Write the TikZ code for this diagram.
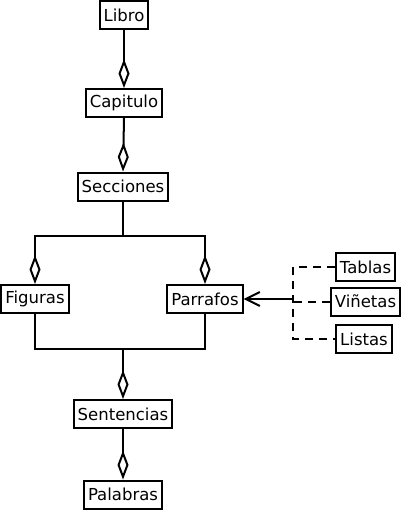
\documentclass[tikz,border=0pt]{standalone}
\usepackage{fontspec}
\setmainfont{DejaVu Sans}
\usetikzlibrary{arrows.meta}
\tikzset{
  box/.style={draw, line width=2pt, inner xsep=4pt, inner ysep=0pt, minimum height=28pt, font=\fontsize{16.5}{19}\selectfont},
  link/.style={line width=2pt},
  agg/.style={link, -{Diamond[open,length=29pt,width=11pt,line width=2pt]}},
  dep/.style={link, -{Straight Barb[length=14pt,width=14pt,line width=2pt]}},
  dsh/.style={line width=2pt, dash pattern=on 8pt off 6pt}
}
\begin{document}
\begin{tikzpicture}[x=1pt,y=-1pt]
\useasboundingbox (0,0) rectangle (403,513);
\node[box] (libro) at (124,15) {Libro};
\node[box] (cap) at (124,103) {Capitulo};
\node[box] (sec) at (123,186.5) {Secciones};
\node[box] (fig) at (35,299) {Figuras};
\node[box] (par) at (205,299) {Parrafos};
\node[box] (sen) at (123,414) {Sentencias};
\node[box] (pal) at (123,494.5) {Palabras};
\node[box] (tab) at (365.5,267) {Tablas};
\node[box] (vin) at (365.5,301.5) {Viñetas};
\node[box] (lis) at (364,339) {Listas};
\coordinate (top) at (123,236);
\coordinate (bot) at (123,349);
\coordinate (j) at (293,299);
\coordinate (jt) at (293,267);
\coordinate (jl) at (293,339);
\draw[agg] (libro.south) -- (cap.north);
\draw[agg] (cap.south) -- (sec.north);
\draw[link] (sec.south) -- (top);
\draw[agg] (top) -| (fig.north);
\draw[agg] (top) -| (par.north);
\draw[link] (fig.south) |- (bot) -| (par.south);
\draw[agg] (bot) -- (sen.north);
\draw[agg] (sen.south) -- (pal.north);
\draw[dep] (j) -- (par.east);
\draw[dsh] (tab.west) -- (jt) -- (jl) -- (lis.west);
\draw[dsh] (vin.west) -- (vin.west -| j);
\end{tikzpicture}
\end{document}
